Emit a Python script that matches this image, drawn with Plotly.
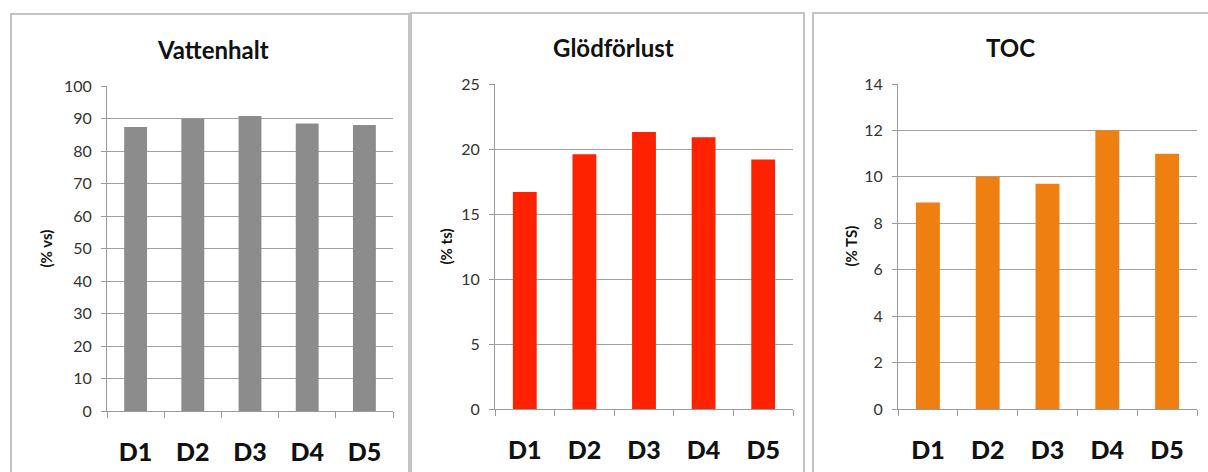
import plotly.graph_objects as go

categories = ["D1", "D2", "D3", "D4", "D5"]
vattenhalt = [87.4, 90.0, 90.8, 88.5, 88.0]
glodforlust = [16.7, 19.6, 21.3, 20.9, 19.2]
toc = [8.9, 10.0, 9.7, 12.0, 11.0]

titles = ["Vattenhalt", "Glödförlust", "TOC"]
ytitles = ["(% vs)", "(% ts)", "(% TS)"]
colors = ["#8c8c8c", "#fe2200", "#ee7f10"]
ranges = [[0, 100], [0, 25], [0, 14]]
dticks = [10, 5, 2]
series = [vattenhalt, glodforlust, toc]

W, H = 1208, 472
# plot-area pixel boxes (x0, x1, ytop, ybottom)
boxes = [(107, 393, 86, 411), (495, 793, 84, 409), (898, 1197, 84, 409)]
panels = [(11, 409, 14), (411, 804, 13), (813, 1212, 13)]
title_x = [213, 613, 1010]
title_y = [50, 48, 48]
ytitle_x = [45, 445, 850]

FONT = "Lato"
fig = go.Figure()
layout = dict(width=W, height=H, margin=dict(l=0, r=0, t=0, b=0),
              paper_bgcolor="white", plot_bgcolor="rgba(0,0,0,0)",
              showlegend=False, bargap=0.6, font=dict(family=FONT))
annotations = []
shapes = []
for i in range(3):
    sfx = "" if i == 0 else str(i + 1)
    fig.add_trace(go.Bar(x=categories, y=series[i], marker=dict(color=colors[i], line=dict(width=0)),
                         xaxis="x" + sfx, yaxis="y" + sfx))
    x0, x1, yt, yb = boxes[i]
    layout["xaxis" + sfx] = dict(domain=[x0 / W, x1 / W], anchor="y" + sfx,
                                  showline=True, linecolor="#9a9a9a", linewidth=1,
                                  ticks="outside", tickson="boundaries", ticklen=6, tickcolor="#9a9a9a",
                                  tickfont=dict(family=FONT, size=25, color="#111111", weight=900),
                                  ticklabelstandoff=19, showgrid=False, automargin=False)
    layout["yaxis" + sfx] = dict(domain=[1 - yb / H, 1 - yt / H], anchor="x" + sfx,
                                  range=ranges[i], dtick=dticks[i], showline=True, linecolor="#9a9a9a",
                                  linewidth=1, ticks="outside", ticklen=5, tickcolor="#9a9a9a",
                                  showgrid=True, gridcolor="#a0a0a0", gridwidth=1,
                                  tickfont=dict(family=FONT, size=16, color="#333333"),
                                  ticklabelstandoff=6, zeroline=False, automargin=False)
    annotations.append(dict(text="<b>%s</b>" % titles[i], x=title_x[i] / W, y=1 - title_y[i] / H,
                            xref="paper", yref="paper", showarrow=False,
                            font=dict(family=FONT, size=24, color="#111111"),
                            xanchor="center", yanchor="middle"))
    annotations.append(dict(text="<b>%s</b>" % ytitles[i], x=ytitle_x[i] / W, y=1 - (yt + yb) / 2 / H,
                            xref="paper", yref="paper", showarrow=False, textangle=-90,
                            font=dict(family=FONT, size=15, color="#111111"),
                            xanchor="center", yanchor="middle"))
    px0, px1, pt = panels[i]
    shapes.append(dict(type="rect", xref="paper", yref="paper", x0=px0 / W, x1=px1 / W,
                       y0=-0.05, y1=1 - pt / H, line=dict(color="#c4c4c4", width=2),
                       fillcolor="rgba(0,0,0,0)", layer="below"))
layout["annotations"] = annotations
layout["shapes"] = shapes
fig.update_layout(**layout)
fig.write_html("out.html", config={"displayModeBar": False},
               post_script="document.body.style.margin='0';document.body.style.overflow='hidden';")
